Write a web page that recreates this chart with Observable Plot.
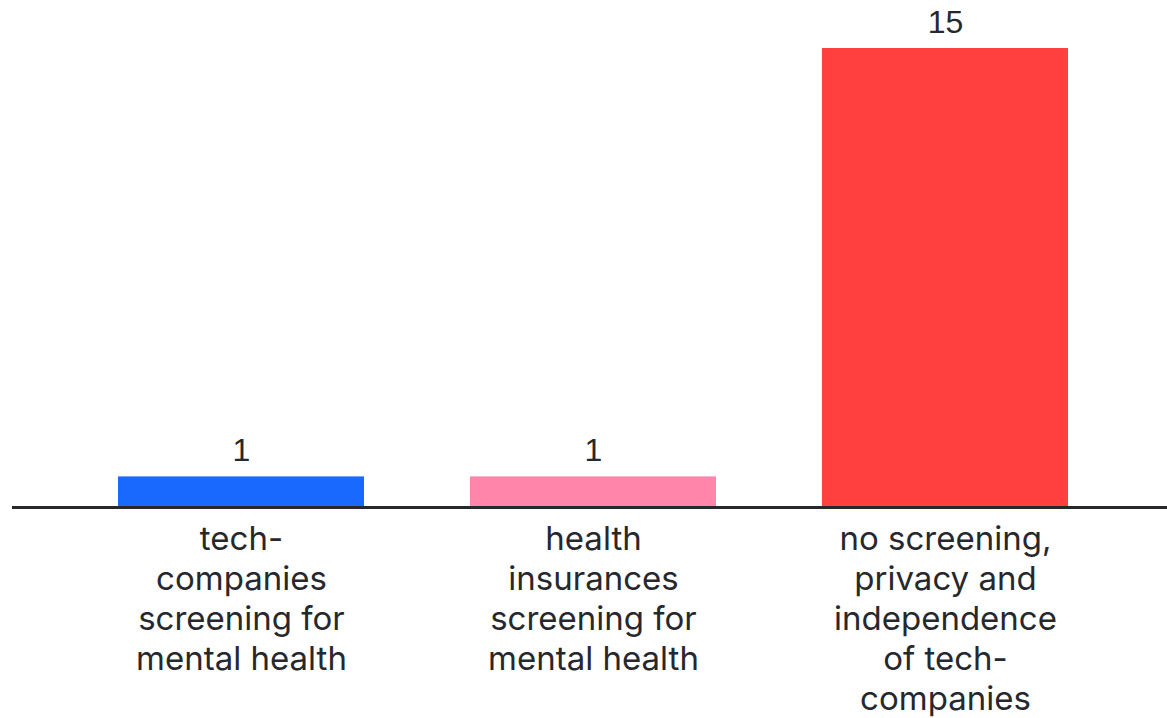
<!DOCTYPE html>
<html><head><meta charset="utf-8">
<script src="https://cdn.jsdelivr.net/npm/d3@7"></script>
<script src="https://cdn.jsdelivr.net/npm/@observablehq/plot@0.6"></script>
<style>body{margin:0;background:#fff}</style>
</head><body><div id="chart"></div>
<script>
const categories = [
  "tech-\ncompanies\nscreening for\nmental health",
  "health\ninsurances\nscreening for\nmental health",
  "no screening,\nprivacy and\nindependence\nof tech-\ncompanies"
];
const values = [1, 1, 15];
const colors = ["#1a69ff", "#ff85aa", "#ff403f"];
const data = categories.map((c, i) => ({category: c, value: values[i], color: colors[i]}));

const chart = Plot.plot({
  width: 1167, height: 718,
  marginTop: 48, marginBottom: 211, marginLeft: 12, marginRight: 0,
  x: {domain: categories, paddingInner: 0.3011, paddingOuter: 0.2912, align: 0.517, round: false, axis: null},
  y: {domain: [0, 15], axis: null},
  marks: [
    Plot.barY(data, {x: "category", y: "value", fill: "color"}),
    Plot.ruleY([0], {stroke: "#26282e", strokeWidth: 3}),
    Plot.text(data, {x: "category", y: "value", text: d => String(d.value), dy: -26,
      fontSize: 32, fill: "#26282e", fontFamily: "Liberation Sans, Arial, sans-serif"}),
    Plot.text(data, {x: "category", y: 0, text: "category", dy: 14, lineAnchor: "top", lineHeight: 1.21,
      fontSize: 33, fill: "#26282e", fontFamily: "Inter, sans-serif"})
  ]
});
document.getElementById("chart").append(chart);
</script></body></html>
